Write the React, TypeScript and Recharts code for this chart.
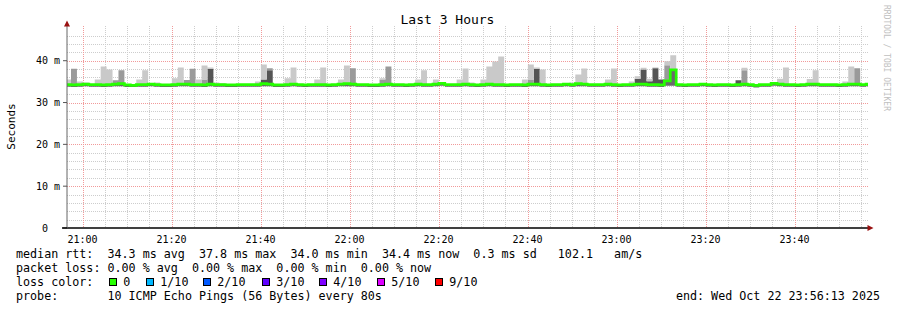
import React from 'react';
import { ComposedChart, Area, Line, XAxis, YAxis, CartesianGrid } from 'recharts';

// time is seconds of the day, one slot every 80s (one probe round)
const slotStart = 75364;
const slotStep = 80;
const viewStart = 75390;
const viewEnd = 86190;
const rttTop = 48.3;

const medianRtt = [
  34.3, 34.2, 34.3, 34.4, 34.3, 34.3, 34.2, 34.3, 34.4, 34.5,
  34.2, 34.1, 34.3, 34.3, 34.4, 34.3, 34.2, 34.2, 34.3, 34.4,
  34.4, 34.3, 34.3, 34.2, 34.4, 34.3, 34.3, 34.2, 34.2, 34.3,
  34.3, 34.3, 34.3, 34.5, 34.4, 34.2, 34.2, 34.3, 34.4, 34.3,
  34.2, 34.3, 34.3, 34.3, 34.2, 34.3, 34.4, 34.5, 34.4, 34.3,
  34.3, 34.2, 34.2, 34.3, 34.4, 34.3, 34.3, 34.2, 34.3, 34.4,
  34.3, 34.3, 34.4, 34.6, 34.3, 34.3, 34.3, 34.4, 34.3, 34.2,
  34.3, 34.4, 34.3, 34.3, 34.2, 34.3, 34.3, 34.2, 34.4, 34.4,
  34.3, 34.2, 34.3, 34.3, 34.4, 34.3, 34.5, 34.4, 34.3, 34.3,
  34.3, 34.4, 34.3, 34.2, 34.3, 34.3, 34.4, 34.4, 34.3, 34.3,
  34.2, 35.2, 37.8, 34.3, 34.2, 34.3, 34.3, 34.4, 34.3, 34.2,
  34.3, 34.3, 34.2, 34.3, 34.4, 34.3, 34.1, 34.3, 34.3, 34.6,
  34.4, 34.3, 34.3, 34.2, 34.3, 34.4, 34.4, 34.3, 34.3, 34.3,
  34.2, 34.3, 34.4, 34.4, 34.3, 34.4,
];

const minRtt = [
  33.8, 33.7, 33.8, 33.9, 33.8, 33.8, 33.7, 33.8, 33.9, 33.9,
  33.7, 33.7, 33.8, 33.8, 33.9, 33.8, 33.7, 33.7, 33.8, 33.9,
  33.9, 33.8, 33.8, 33.7, 33.9, 33.8, 33.8, 33.7, 33.7, 33.8,
  33.8, 33.8, 33.8, 33.9, 33.9, 33.7, 33.7, 33.8, 33.9, 33.8,
  33.7, 33.8, 33.8, 33.8, 33.7, 33.8, 33.9, 33.9, 33.9, 33.8,
  33.8, 33.7, 33.7, 33.8, 33.9, 33.8, 33.8, 33.7, 33.8, 33.9,
  33.8, 33.8, 33.9, 34.0, 33.8, 33.8, 33.8, 33.9, 33.8, 33.7,
  33.8, 33.9, 33.8, 33.8, 33.7, 33.8, 33.8, 33.7, 33.9, 33.9,
  33.8, 33.7, 33.8, 33.8, 33.9, 33.8, 33.9, 33.9, 33.8, 33.8,
  33.8, 33.9, 33.8, 33.7, 33.8, 33.8, 33.9, 33.9, 33.8, 33.8,
  33.7, 34.0, 34.0, 33.8, 33.7, 33.8, 33.8, 33.9, 33.8, 33.7,
  33.8, 33.8, 33.7, 33.8, 33.9, 33.8, 33.6, 33.8, 33.8, 34.0,
  33.9, 33.8, 33.8, 33.7, 33.8, 33.9, 33.9, 33.8, 33.8, 33.8,
  33.7, 33.8, 33.9, 33.9, 33.8, 33.9,
];

// smoke above the median: [slot, value]
const darkTop: [number, number][] = [
  [24, 38.1], [33, 35.5], [34, 37.7], [79, 38.1], [96, 35.7], [97, 37.9],
  [98, 35.1], [99, 38.2], [100, 35.5], [101, 35.5], [113, 35.3],
];
const midTop: [number, number][] = [
  [1, 38.1], [8, 35.3], [9, 37.7], [20, 35.4], [21, 38.1], [23, 35.5], [34, 38.2],
  [48, 38.2], [53, 35.5], [54, 38.6], [78, 35.4], [99, 38.3], [101, 38.9],
  [114, 37.7], [133, 38.2],
];
const maxTop: [number, number][] = [
  [0, 35.5], [2, 35.0], [3, 34.8], [5, 35.5], [6, 38.6], [7, 37.9], [12, 35.5],
  [13, 37.7], [15, 34.8], [18, 35.8], [19, 38.4], [22, 35.5], [23, 38.85],
  [24, 38.4], [25, 34.8], [26, 34.6], [32, 35.0], [33, 39.1], [37, 35.8],
  [38, 38.4], [42, 35.5], [43, 38.4], [46, 35.5], [47, 38.85], [53, 35.8],
  [59, 35.5], [60, 37.7], [62, 35.5], [66, 35.5], [67, 38.15], [68, 34.8],
  [70, 35.5], [71, 38.6], [72, 39.8], [73, 41.0], [77, 35.5], [78, 39.1],
  [79, 38.4], [80, 37.9], [85, 34.8], [86, 36.7], [87, 38.15], [91, 35.5],
  [92, 38.15], [95, 35.0], [96, 36.3], [97, 38.3], [98, 35.7], [99, 38.4],
  [101, 39.9], [102, 41.3], [114, 38.3], [119, 34.5], [120, 35.7], [121, 38.4],
  [125, 35.6], [126, 37.7], [131, 35.0], [132, 38.6],
];

const timeTicks = [75600, 76800, 78000, 79200, 80400, 81600, 82800, 84000, 85200];
const timeLabels = ['21:00', '21:20', '21:40', '22:00', '22:20', '22:40', '23:00', '23:20', '23:40'];
const rttTicks = [0, 10, 20, 30, 40];
const rttLabels = ['0  ', '10 m', '20 m', '30 m', '40 m'];

const lossLevels = ['0', '1/10', '2/10', '3/10', '4/10', '5/10', '9/10'];
const lossColors = ['#26ff00', '#00b8ff', '#0059ff', '#5e00ff', '#7e00ff', '#dd00ff', '#ff0000'];

const statsLine = 'median rtt:  34.3 ms avg  37.8 ms max  34.0 ms min  34.4 ms now  0.3 ms sd   102.1   am/s';
const lossLine = 'packet loss: 0.00 % avg  0.00 % max  0.00 % min  0.00 % now';
const probeLine = 'probe:       10 ICMP Echo Pings (56 Bytes) every 80s';
const endLine = 'end: Wed Oct 22 23:56:13 2025';

const darkMap = new Map(darkTop);
const midMap = new Map(midTop);
const maxMap = new Map(maxTop);

const table = medianRtt.map((m, i) => {
  const lo = minRtt[i];
  const p8 = Math.max(m, darkMap.get(i) ?? m);
  const p9 = Math.max(p8, midMap.get(i) ?? p8);
  const hi = Math.max(p9, maxMap.get(i) ?? p9);
  return {
    t: slotStart + i * slotStep,
    base: lo,
    band: m - lo,
    dark: p8 - m,
    mid: p9 - p8,
    light: hi - p9,
    median: m,
  };
});
table.push({ ...table[table.length - 1], t: slotStart + table.length * slotStep });

const minorX: number[] = [];
for (let t = 75600; t < viewEnd; t += 300) if ((t - 75600) % 1200 !== 0) minorX.push(t);
const minorY: number[] = [];
for (let v = 2; v < 48; v += 2) if (v % 10 !== 0) minorY.push(v);

const mono = '"DejaVu Sans Mono", monospace';

// grid lines snapped to whole pixels (same linear mapping as the axes) so the dots stay crisp
const crispY = (values: number[]) => ({ offset }: any) =>
  values.map((v) => Math.round(offset.top + offset.height * (1 - v / rttTop)) + 0.5);
const crispX = (values: number[]) => ({ offset }: any) =>
  values.map((t) => Math.round(offset.left + (offset.width * (t - viewStart)) / (viewEnd - viewStart)) + 0.5);

const TimeTick = ({ x, y, index }: any) => (
  <text x={x} y={y + 12.5} textAnchor="middle" fontFamily={mono} fontSize={10} fill="#000">
    {timeLabels[index]}
  </text>
);

const RttTick = ({ x, y, index }: any) => (
  <text x={x} y={y + 3.5} textAnchor="end" fontFamily={mono} fontSize={10} fill="#000" xmlSpace="preserve">
    {rttLabels[index]}
  </text>
);

const lossBoxX = [109, 146, 203, 262, 319, 377, 435];

export default function App() {
  return (
    <div style={{ position: 'relative', width: 897, height: 310, background: '#fff' }}>
      <style>{'body{margin:0}'}</style>
      <ComposedChart
        width={897}
        height={310}
        data={table}
        margin={{ top: 26, right: 29, bottom: 81, left: 66 }}
      >
        <XAxis
          type="number"
          dataKey="t"
          domain={[viewStart, viewEnd]}
          ticks={timeTicks}
          allowDataOverflow
          height={1}
          tickLine={false}
          tickSize={0}
          tick={<TimeTick />}
          axisLine={{ stroke: '#000', strokeWidth: 1.5 }}
        />
        <YAxis
          type="number"
          domain={[0, rttTop]}
          ticks={rttTicks}
          allowDataOverflow
          width={1}
          tickSize={4}
          tickMargin={3}
          tickLine={{ stroke: '#555' }}
          tick={<RttTick />}
          axisLine={{ stroke: '#666' }}
        />
        <Area dataKey="base" stackId="smoke" type="stepAfter" stroke="none" fill="none" isAnimationActive={false} dot={false} activeDot={false} />
        <Area dataKey="band" stackId="smoke" type="stepAfter" stroke="none" fill="#6a6a6a" fillOpacity={1} isAnimationActive={false} dot={false} activeDot={false} />
        <Area dataKey="dark" stackId="smoke" type="stepAfter" stroke="none" fill="#555555" fillOpacity={1} isAnimationActive={false} dot={false} activeDot={false} />
        <Area dataKey="mid" stackId="smoke" type="stepAfter" stroke="none" fill="#9a9a9a" fillOpacity={1} isAnimationActive={false} dot={false} activeDot={false} />
        <Area dataKey="light" stackId="smoke" type="stepAfter" stroke="none" fill="#c9c9c9" fillOpacity={1} isAnimationActive={false} dot={false} activeDot={false} />
        <Line dataKey="median" type="stepAfter" stroke="#26ff00" strokeWidth={2.7} dot={false} activeDot={false} isAnimationActive={false} />
        <CartesianGrid
          horizontalCoordinatesGenerator={crispY(minorY)}
          verticalCoordinatesGenerator={crispX(minorX)}
          stroke="#cdcdcd"
          strokeDasharray="1 1"
        />
        <CartesianGrid
          horizontalCoordinatesGenerator={crispY(rttTicks.slice(1))}
          verticalCoordinatesGenerator={crispX(timeTicks)}
          stroke="#f19a9a"
          strokeDasharray="1 1"
        />
      </ComposedChart>
      <svg width={897} height={310} style={{ position: 'absolute', left: 0, top: 0, pointerEvents: 'none' }}>
        <polygon points="67,20.5 64,26.5 70,26.5" fill="#991111" />
        <polygon points="873.5,228 867.5,225 867.5,231" fill="#991111" />
        <line x1={62} y1={228} x2={67} y2={228} stroke="#000" strokeWidth={1.5} />
        <text x={447.5} y={24} textAnchor="middle" fontFamily={mono} fontSize={13} fill="#000">
          Last 3 Hours
        </text>
        <text x={15} y={126.5} textAnchor="middle" fontFamily={mono} fontSize={11} fill="#000" transform="rotate(-90 15 126.5)">
          Seconds
        </text>
        <text x={884} y={5} fontFamily={mono} fontSize={8} fill="#c0c0c0" transform="rotate(90 884 5)">
          RRDTOOL / TOBI OETIKER
        </text>
        <g fontFamily={mono} fontSize={11.7} fill="#000">
          <text x={16} y={258} xmlSpace="preserve">{statsLine}</text>
          <text x={16} y={272} xmlSpace="preserve">{lossLine}</text>
          <text x={16} y={286} xmlSpace="preserve">loss color:</text>
          {lossLevels.map((lvl, i) => (
            <g key={lvl}>
              <rect x={lossBoxX[i] + 0.5} y={278.5} width={7} height={7} fill={lossColors[i]} stroke="#000" strokeWidth={1} />
              <text x={lossBoxX[i] + 14.3} y={286}>{lvl}</text>
            </g>
          ))}
          <text x={16} y={300} xmlSpace="preserve">{probeLine}</text>
          <text x={880} y={300} textAnchor="end">{endLine}</text>
        </g>
      </svg>
    </div>
  );
}
